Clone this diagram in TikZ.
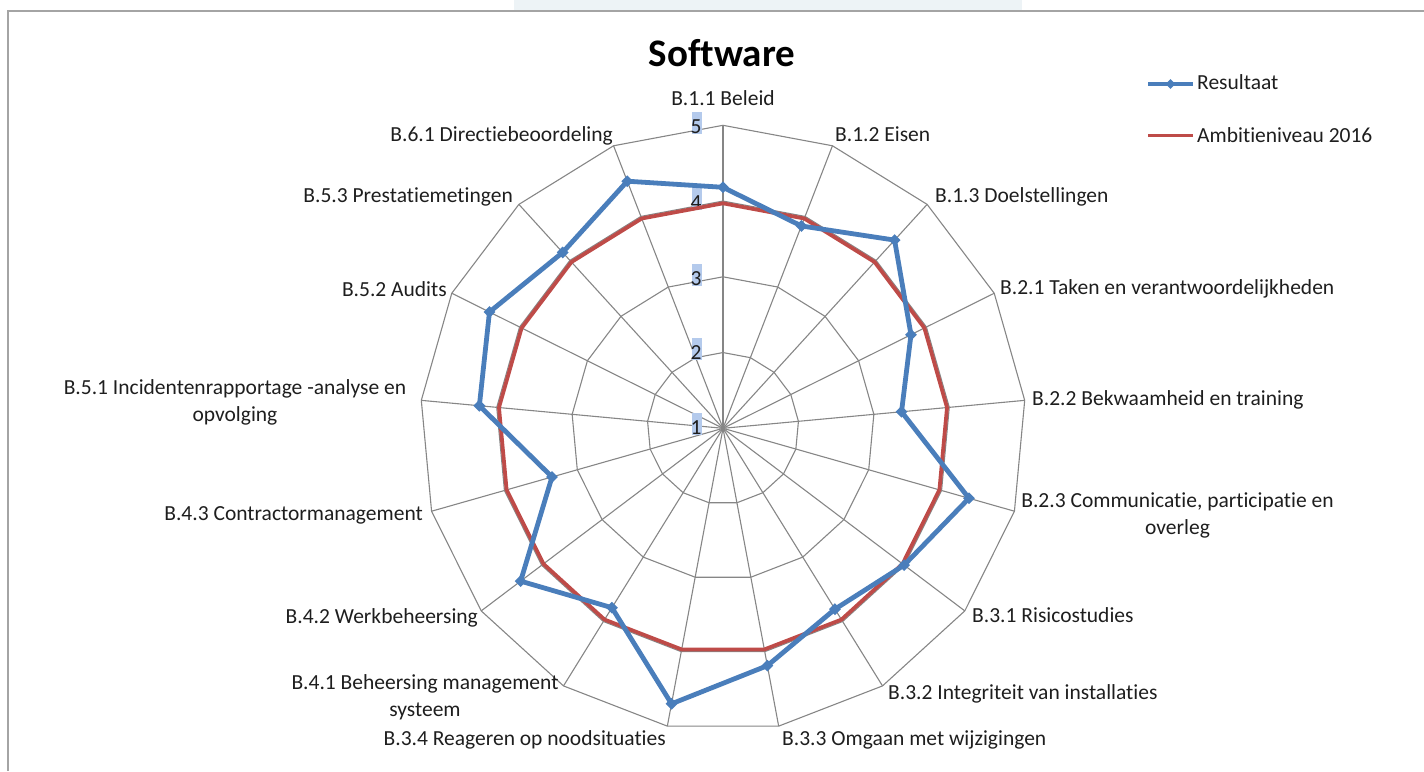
\documentclass[tikz,border=0pt]{standalone}
\usepackage{fontspec}
\setmainfont{Carlito}[Ligatures=NoCommon]
\usetikzlibrary{shapes.geometric}
\definecolor{serA}{HTML}{4A7EBB}
\definecolor{serB}{HTML}{BE4B48}
\definecolor{gridc}{HTML}{868686}
\definecolor{framec}{HTML}{A4A4A4}
\definecolor{bandc}{HTML}{EDF3F6}
\definecolor{tickbg}{HTML}{B4CAEC}
\definecolor{txt}{HTML}{1E1E1E}
\tikzset{
  gridline/.style={draw=gridc, line width=1.1pt},
  lab/.style={font=\fontsize{21.5}{27}\selectfont, text=txt, inner sep=0pt},
  labw/.style={lab, anchor=mid west, yshift=-4.5pt},
  labe/.style={lab, anchor=mid east, yshift=-4.5pt},
  tickbox/.style={fill=tickbg, inner sep=0pt, minimum width=10pt, minimum height=22pt},
  serAline/.style={draw=serA, line width=4.8pt, line join=round},
  serBline/.style={draw=serB, line width=3.8pt, line join=round},
  marker/.style={diamond, fill=serA, inner sep=0pt, minimum width=12pt, minimum height=12pt},
}
\begin{document}
\begin{tikzpicture}[x=1pt,y=-1pt]
\useasboundingbox (0,0) rectangle (1424,771);
% page band and frame
\fill[bandc] (514,0) rectangle (1022,10);
\draw[framec, line width=2.2pt] (8,771) -- (8,11) -- (1424,11);
% centre
\coordinate (c) at (723,428.3);
% spokes
\foreach \k in {0,...,16}{
  \coordinate (s\k) at ({723+303*cos(90-\k*360/17)},{428.3-303*sin(90-\k*360/17)});
  \draw[gridline] (c) -- (s\k);
}
% rings
\foreach \r in {75.75,151.5,227.25,303}{
  \draw[gridline] plot[samples at={0,...,16}] ({723+\r*cos(90-\x*360/17)},{428.3-\r*sin(90-\x*360/17)}) -- cycle;
}
% tick labels
\foreach \v/\ty in {1/428,2/353,3/279,4/203,5/127}{
  \node[tickbox] (tb\v) at (696.5,\ty-4) {};
  \node[lab] (tk\v) at (696,\ty) {\v};
}
% red series (Ambitieniveau 2016)
\foreach \k in {0,...,16}{
  \coordinate (r\k) at ({723+225*cos(90-\k*360/17)},{428.3-225*sin(90-\k*360/17)});
}
\draw[serBline] (r0) \foreach \k in {1,...,16}{ -- (r\k)} -- cycle;
% blue series (Resultaat)
\foreach \k/\rv in {0/241,1/217,2/254.7,3/210,4/179.3,5/255.7,6/227,7/212.7,8/241.5,9/280.3,10/211,11/253.6,12/177.8,13/244.7,14/260.9,15/238,16/265}{
  \coordinate (b\k) at ({723+\rv*cos(90-\k*360/17)},{428.3-\rv*sin(90-\k*360/17)});
}
\draw[serAline] (b0) \foreach \k in {1,...,16}{ -- (b\k)} -- cycle;
\foreach \k in {0,...,16}{ \node[marker] (m\k) at (b\k) {}; }
% title
\node[font=\fontsize{39}{44}\selectfont\bfseries, text=black, inner sep=0pt] (title) at (722,53) {Software};
% axis labels
\node[lab, anchor=center] (l0) at (723,98) {B.1.1 Beleid};
\node[labw] (l1) at (835,135) {B.1.2 Eisen};
\node[labw] (l2) at (935,196) {B.1.3 Doelstellingen};
\node[labw] (l3) at (1000,288) {B.2.1 Taken en verantwoordelijkheden};
\node[labw] (l4) at (1032,399) {B.2.2 Bekwaamheid en training};
\node[lab, align=center] (l5) at (1177.5,515.5) {B.2.3 Communicatie, participatie en\\overleg};
\node[labw] (l6) at (972,616) {B.3.1 Risicostudies};
\node[labw] (l7) at (888,693) {B.3.2 Integriteit van installaties};
\node[labw] (l8) at (782,739) {B.3.3 Omgaan met wijzigingen};
\node[labe] (l9) at (666,739) {B.3.4 Reageren op noodsituaties};
\node[lab, align=center] (l10) at (425,697) {B.4.1 Beheersing management\\systeem};
\node[labe] (l11) at (478,617) {B.4.2 Werkbeheersing};
\node[labe] (l12) at (423,514) {B.4.3 Contractormanagement};
\node[lab, align=center] (l13) at (235,402) {B.5.1 Incidentenrapportage -analyse en\\opvolging};
\node[labe] (l14) at (447,290) {B.5.2 Audits};
\node[labe] (l15) at (513,196) {B.5.3 Prestatiemetingen};
\node[labe] (l16) at (613,135) {B.6.1 Directiebeoordeling};
% legend
\coordinate (la1) at (1148,84);
\coordinate (la2) at (1193,84);
\draw[serAline, line width=4pt] (la1) -- (la2);
\node[marker, minimum width=10pt, minimum height=10pt] (lm) at (1170.5,84) {};
\node[labw] (leg1) at (1197,83) {Resultaat};
\coordinate (lb1) at (1148,135.5);
\coordinate (lb2) at (1193,135.5);
\draw[serBline] (lb1) -- (lb2);
\node[labw] (leg2) at (1197,135.5) {Ambitieniveau 2016};
\end{tikzpicture}
\end{document}
